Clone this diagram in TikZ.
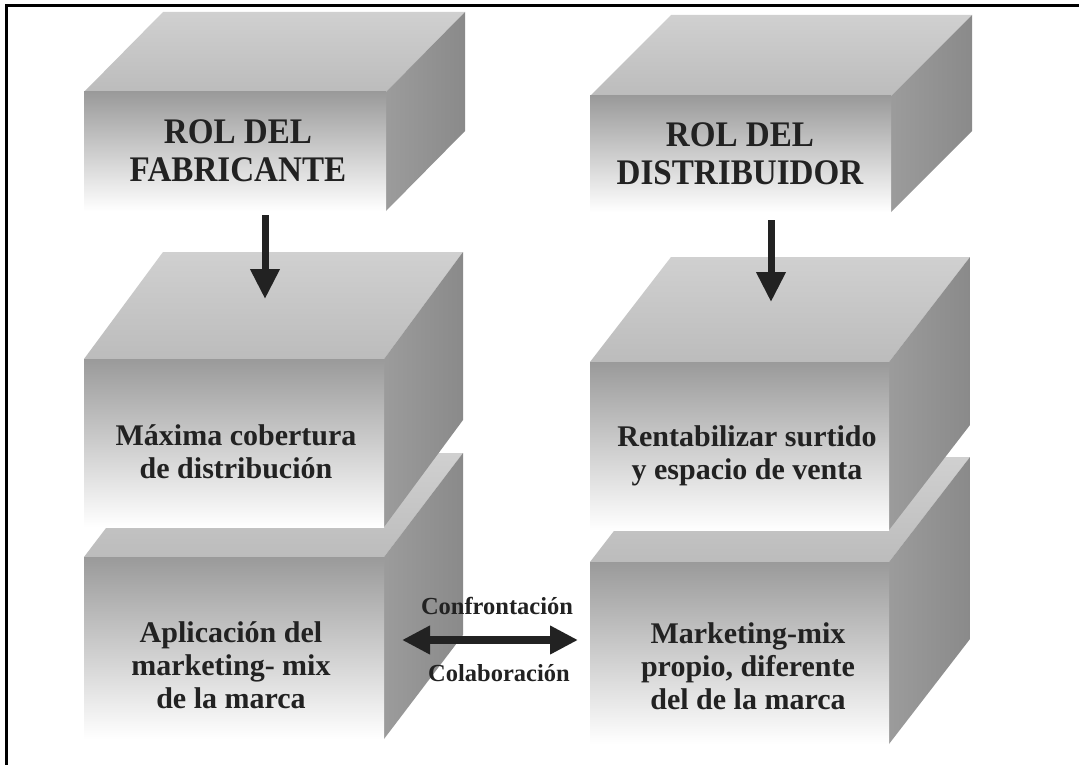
\documentclass[tikz,border=0pt]{standalone}
\usepackage{fontspec}
\setmainfont{Liberation Serif}
\newfontfamily\bigserif{Liberation Serif}[FakeStretch=0.92]
\usetikzlibrary{arrows.meta}
\definecolor{fronttop}{HTML}{9A9A9A}
\definecolor{frontmid}{HTML}{C6C6C6}
\definecolor{topback}{HTML}{D0D0D0}
\definecolor{topfront}{HTML}{BCBCBC}
\definecolor{sideface}{HTML}{8A8A8A}
\definecolor{ink}{HTML}{222222}
% #1 name, #2 left x, #3 right x, #4 top y, #5 bottom y, #6 depth dx, #7 depth dy
\newcommand{\caja}[7]{%
  \shade[top color=topback, bottom color=topfront]
    (#2,#4) -- ({#2+#6},{#4-#7}) -- ({#3+#6},{#4-#7}) -- (#3,#4) -- cycle;
  \shade[left color=sideface!85!white, right color=sideface]
    (#3,#4) -- ({#3+#6},{#4-#7}) -- ({#3+#6},{#5-#7}) -- (#3,#5) -- cycle;
  \shade[top color=fronttop, middle color=frontmid, bottom color=white]
    (#2,#4) rectangle (#3,#5);
  \coordinate (#1) at ({(#2+#3)/2},{(#4+#5)/2});
}
\begin{document}
\begin{tikzpicture}[x=1pt,y=-1pt,
  txt/.style={text=ink, font=\bfseries\fontsize{30}{33}\selectfont, align=center, inner sep=0pt},
  big/.style={text=ink, font=\bigserif\bfseries\fontsize{36}{38}\selectfont, align=center, inner sep=0pt},
  lab/.style={text=ink, font=\bfseries\fontsize{24.5}{28}\selectfont, inner sep=0pt},
  flecha/.style={line width=7pt, draw=ink, -{Triangle[length=30pt,width=28pt]}},
  dflecha/.style={line width=8pt, draw=ink, {Triangle[length=28pt,width=27pt]}-{Triangle[length=28pt,width=27pt]}},
]
\useasboundingbox (0,0) rectangle (1079,765);
\fill[white] (0,0) rectangle (1079,765);

% frame
\draw[line width=3pt, line join=miter] (6.5,765) -- (6.5,5.5) -- (1079,5.5);

% left column
\caja{L3}{84}{384}{557}{739}{79}{104}
\caja{L2}{84}{384}{359}{527}{79}{107}
\caja{L1}{84}{386}{92}{211}{79}{80}
% right column
\caja{R3}{590}{889}{562}{744}{81}{105}
\caja{R2}{590}{889}{362}{530}{81}{105}
\caja{R1}{590}{891}{96}{212}{81}{81}

% texts
\node[big] (t1) at (238,151) {ROL DEL\\FABRICANTE};
\node[big] (t4) at (740,154) {ROL DEL\\DISTRIBUIDOR};
\node[txt] (t2) at (236,452) {Máxima cobertura\\de distribución};
\node[txt] (t5) at (747,456) {Rentabilizar surtido\\y espacio de venta};
\node[txt] (t3) at (231,665) {Aplicación del\\marketing- mix\\de la marca};
\node[txt] (t6) at (748,666) {Marketing-mix\\propio, diferente\\del de la marca};

% arrows
\coordinate (a1s) at (265,215);
\coordinate (a1e) at (265,299);
\coordinate (a2s) at (771,220);
\coordinate (a2e) at (771,302);
\coordinate (mL) at (402,640);
\coordinate (mR) at (578,640);
\draw[flecha] (a1s) -- (a1e);
\draw[flecha] (a2s) -- (a2e);
\draw[dflecha] (mL) -- (mR);
\node[lab] (conf) at (497,606) {Confrontación};
\node[lab] (cola) at (499,673) {Colaboración};
\end{tikzpicture}
\end{document}
